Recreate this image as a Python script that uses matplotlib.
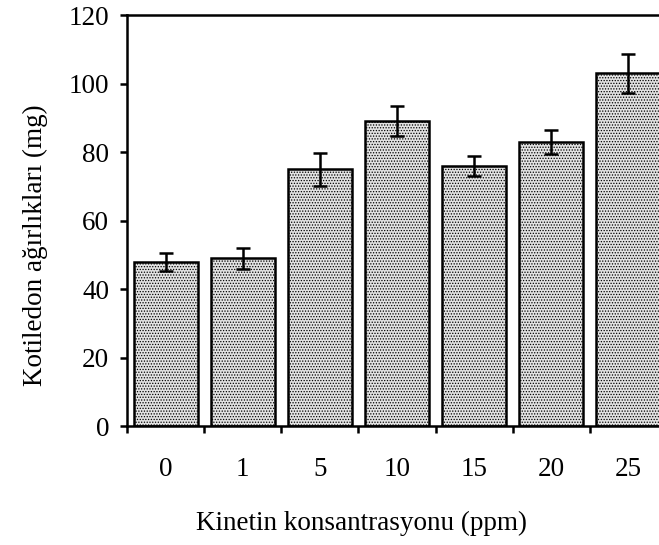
import matplotlib
matplotlib.use("Agg")
import matplotlib.pyplot as plt
import numpy as np

categories = ["0", "1", "5", "10", "15", "20", "25"]
values = [48, 49, 75, 89, 76, 83, 103]
errors = [2.7, 3.0, 4.8, 4.4, 3.0, 3.6, 5.8]
yticks = [0, 20, 40, 60, 80, 100, 120]

plt.rcParams['font.family'] = ['Liberation Serif', 'DejaVu Serif']
plt.rcParams['hatch.linewidth'] = 0.6
plt.rcParams['hatch.color'] = '#444444'

fig = plt.figure(figsize=(6.59, 5.45), dpi=100)
ax = fig.add_axes([0.193, 0.218, 0.819, 0.754])

x = np.arange(len(categories))
ax.bar(x, values, width=0.835, color='#e2e2e2', edgecolor='black',
       linewidth=1.8, hatch='......', zorder=2)
ax.errorbar(x, values, yerr=errors, fmt='none', ecolor='black',
            elinewidth=1.8, capsize=5, capthick=1.8, zorder=3)

ax.set_xlim(-0.5, len(categories) - 0.5)
ax.set_ylim(0, 120)
ax.set_yticks(yticks)
ax.set_yticklabels([str(v) for v in yticks])

# boundaries as major ticks, labels at centers as minor ticks
ax.set_xticks(np.arange(len(categories)) - 0.5)
ax.set_xticklabels([])
ax.set_xticks(x, minor=True)
ax.set_xticklabels(categories, minor=True)
ax.tick_params(axis='x', which='major', direction='out', length=5, width=1.8)
ax.tick_params(axis='x', which='minor', length=0, pad=22, labelsize=19.5)
ax.tick_params(axis='y', direction='out', length=5, width=1.8, pad=8, labelsize=19.5)

for s in ax.spines.values():
    s.set_linewidth(1.8)

ax.set_xlabel('Kinetin konsantrasyonu (ppm)', fontsize=19.5)
ax.set_ylabel('Kotiledon ağırlıkları (mg)', fontsize=19.5)
ax.xaxis.set_label_coords(0.435, -0.205)
ax.yaxis.set_label_coords(-0.146, 0.44)

fig.savefig('out.png', dpi=100)
